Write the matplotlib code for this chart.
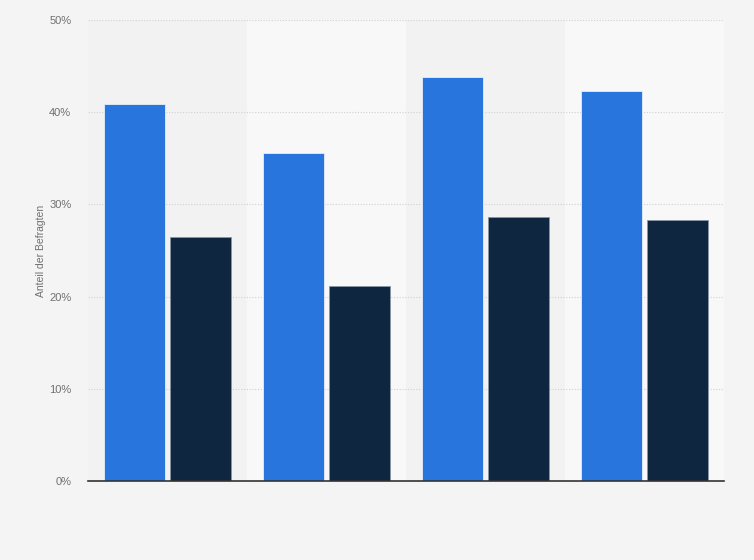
import matplotlib
matplotlib.use("Agg")
import matplotlib.pyplot as plt
import numpy as np
from matplotlib.ticker import FuncFormatter

plt.rcParams["font.family"] = ["Liberation Sans", "DejaVu Sans"]

categories = ["", "", "", ""]
series_a = [40.9, 35.6, 43.8, 42.3]
series_b = [26.5, 21.2, 28.6, 28.3]
y_ticks = [0, 10, 20, 30, 40, 50]

fig = plt.figure(figsize=(7.54, 5.6), dpi=100, facecolor="#f4f4f4")
ax = fig.add_axes([88/754, 79/560, 636/754, 461/560])
ax.set_facecolor("#f2f2f2")

x = np.arange(len(categories))
for i in x:
    if i % 2 == 1:
        ax.axvspan(i - 0.5, i + 0.5, color="#f8f8f8", zorder=0, lw=0)

w = 0.38
off = 0.208
ax.bar(x - off, series_a, width=w, color="#2876dd", edgecolor="#e6eefa", linewidth=0.6, zorder=3)
ax.bar(x + off, series_b, width=w, color="#0f2640", edgecolor="#8896a5", linewidth=0.6, zorder=3)

ax.set_xlim(-0.5, len(categories) - 0.5)
ax.set_ylim(0, 50)
ax.set_yticks(y_ticks)
ax.yaxis.set_major_formatter(FuncFormatter(lambda v, p: f"{int(v)}%"))
ax.set_xticks(x)
ax.set_xticklabels(categories)
ax.tick_params(axis="x", length=0)
ax.tick_params(axis="y", length=0, labelsize=8, labelcolor="#707070", pad=12)
ax.grid(axis="y", color="#d0d0d0", linestyle=(0, (1, 1.5)), linewidth=0.8, zorder=1)
for s in ["top", "right", "left"]:
    ax.spines[s].set_visible(False)
ax.spines["bottom"].set_color("#333333")
ax.spines["bottom"].set_linewidth(1.2)
ax.spines["bottom"].set_zorder(4)
ax.set_ylabel("Anteil der Befragten", fontsize=7.5, color="#707070", labelpad=2)

fig.savefig("out.png", dpi=100, facecolor=fig.get_facecolor())
